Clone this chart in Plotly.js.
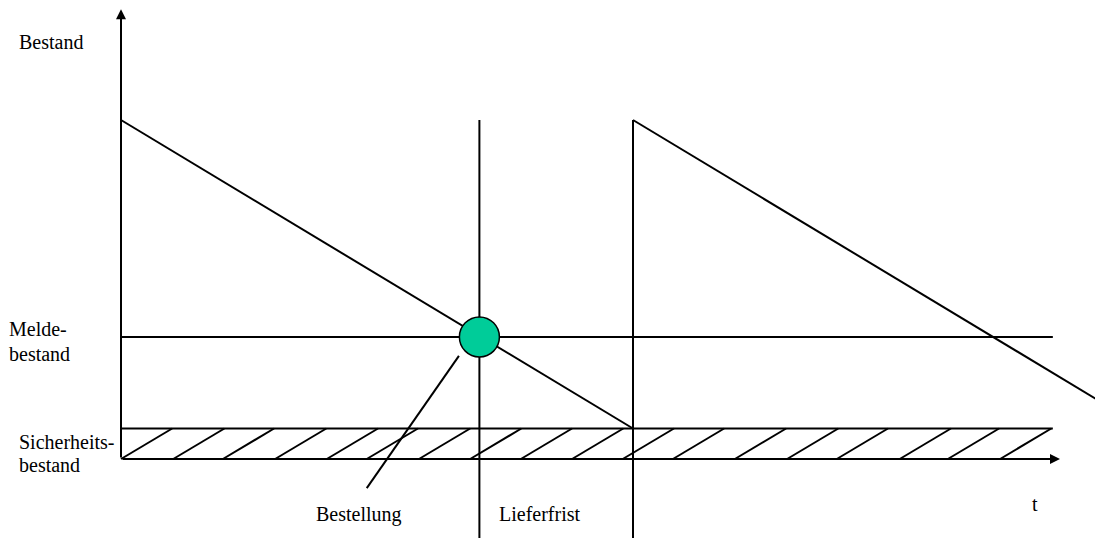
<!DOCTYPE html>
<html>
<head>
<meta charset="utf-8">
<script src="https://cdn.plot.ly/plotly-3.0.1.min.js"></script>
<style>html,body{margin:0;padding:0;background:#fff;}#chart{width:1095px;height:538px;}</style>
</head>
<body>
<div id="chart"></div>
<script>
// ---- data (schematic inventory model, time units / stock units) ----
const cycle1Time = [0, 10];
const cycle1Stock = [100, 9];
const cycle2Time = [10, 20];
const cycle2Stock = [100, 9];
const safetyStock = 9;          // Sicherheitsbestand
const reorderLevel = 36;        // Meldebestand
const orderTime = 7;            // Bestellung
const deliveryTime = 10;        // Ende der Lieferfrist
const maxStock = 100;
const timeEnd = 18.2;
const hatchStarts = [0, 1.02, 1.99, 3.01, 4.02, 4.8, 5.82, 6.82, 7.81, 8.81, 9.8, 10.78, 11.99, 13.01, 13.98, 15.21, 16.15, 17.17];
const pointerTime = [4.8, 6.6];
const pointerStock = [-8.6, 30.4];
const xAxisTip = 18.34;
const yAxisTip = 132.7;

// ---- build hatch segments ----
const hatchX = [], hatchY = [];
hatchStarts.forEach(s => { hatchX.push(s, Math.min(s + 1, timeEnd), null); hatchY.push(0, safetyStock, null); });

const black = '#000000';
const lw = 2;
const line = (x, y, w) => ({type: 'scatter', mode: 'lines', x: x, y: y, hoverinfo: 'skip',
  line: {color: black, width: w || lw}});

const traces = [
  line(hatchX, hatchY, 2),
  line([0, timeEnd], [safetyStock, safetyStock]),
  line([0, timeEnd], [reorderLevel, reorderLevel]),
  line(cycle1Time, cycle1Stock),
  line(cycle2Time, cycle2Stock),
  line([orderTime, orderTime], [maxStock, -40]),
  line([deliveryTime, deliveryTime], [maxStock, -40]),
  line(pointerTime, pointerStock),
  {type: 'scatter', mode: 'markers', x: [orderTime], y: [reorderLevel], hoverinfo: 'skip',
   marker: {size: 40, color: '#00CC99', line: {color: black, width: 1.5}}}
];

const W = 1095, H = 538;
const font = {family: 'Liberation Serif, Times New Roman, serif', size: 20, color: black};
// label: left edge px, baseline px
function label(text, left, baseline) {
  return {text: text, xref: 'paper', yref: 'paper', x: (left - 2) / W, y: 1 - (baseline - 7) / H,
    xanchor: 'left', yanchor: 'middle', showarrow: false, font: font};
}
function arrow(x, y, ax, ay) {
  return {text: '', x: x, y: y, ax: ax, ay: ay, xref: 'x', yref: 'y', axref: 'x', ayref: 'y',
    showarrow: true, arrowhead: 2, arrowsize: 1, arrowwidth: 2, arrowcolor: black, standoff: 0, startstandoff: 0};
}

const layout = {
  width: W, height: H,
  margin: {l: 0, r: 0, t: 0, b: 0},
  paper_bgcolor: '#ffffff', plot_bgcolor: '#ffffff',
  showlegend: false,
  xaxis: {range: [-121 / 51.2, (W - 121) / 51.2], visible: false, fixedrange: true},
  yaxis: {range: [-(H - 459) / 3.39, 459 / 3.39], visible: false, fixedrange: true},
  annotations: [
    arrow(xAxisTip, 0, 0, 0),
    arrow(0, yAxisTip, 0, 0),
    label('Bestand', 19, 49),
    label('Melde-', 9, 336),
    label('bestand', 9, 360.5),
    label('Sicherheits-', 19, 449),
    label('bestand', 19, 472),
    label('Bestellung', 316, 521),
    label('Lieferfrist', 499, 521),
    label('t', 1032, 511)
  ]
};

Plotly.newPlot('chart', traces, layout, {staticPlot: true, displayModeBar: false});
</script>
</body>
</html>
